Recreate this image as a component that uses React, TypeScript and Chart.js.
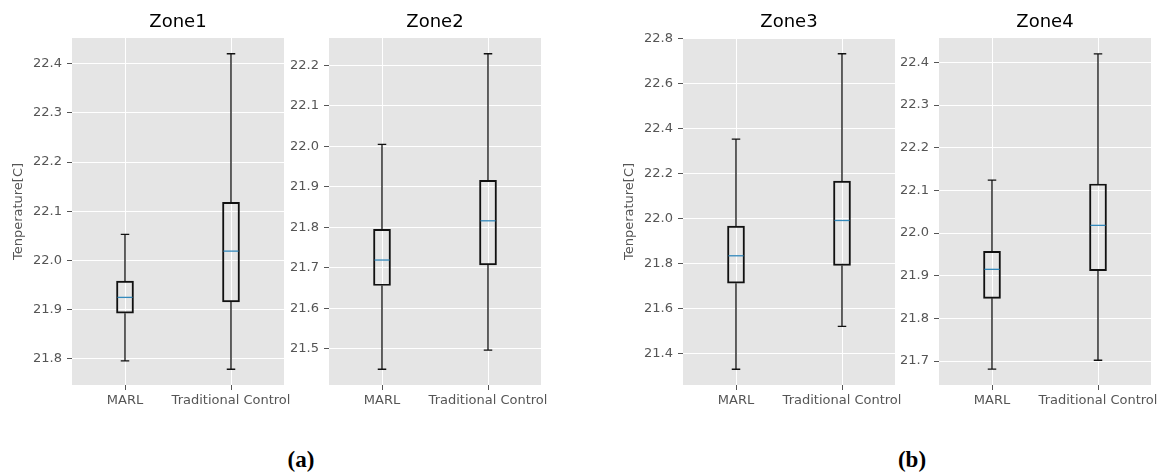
import React, { useEffect, useRef } from "react";
import { Chart, registerables } from "chart.js";

Chart.register(...registerables);

// ---------------- DATA ----------------
const categories = ["MARL", "Traditional Control"];
const zoneTitles = ["Zone1", "Zone2", "Zone3", "Zone4"];
const yAxisTitle = "Tenperature[C]";
const showYAxisTitle = [true, false, true, false];

// box statistics: [lower whisker, Q1, median, Q3, upper whisker]
const zone1Marl = [21.796, 21.893, 21.925, 21.958, 22.053];
const zone1Trad = [21.779, 21.916, 22.019, 22.118, 22.42];
const zone2Marl = [21.449, 21.656, 21.719, 21.795, 22.005];
const zone2Trad = [21.496, 21.707, 21.816, 21.916, 22.229];
const zone3Marl = [21.329, 21.712, 21.834, 21.966, 22.353];
const zone3Trad = [21.52, 21.791, 21.991, 22.166, 22.733];
const zone4Marl = [21.681, 21.847, 21.915, 21.957, 22.124];
const zone4Trad = [21.702, 21.912, 22.018, 22.115, 22.42];

// y-axis limits and tick labels
const yMins = [21.747, 21.41, 21.259, 21.644];
const yMaxs = [22.452, 22.268, 22.803, 22.457];
const zone1Ticks = [21.8, 21.9, 22.0, 22.1, 22.2, 22.3, 22.4];
const zone2Ticks = [21.5, 21.6, 21.7, 21.8, 21.9, 22.0, 22.1, 22.2];
const zone3Ticks = [21.4, 21.6, 21.8, 22.0, 22.2, 22.4, 22.6, 22.8];
const zone4Ticks = [21.7, 21.8, 21.9, 22.0, 22.1, 22.2, 22.3, 22.4];

const panelLabels = ["(a)", "(b)"];

const zoneStats = [
  [zone1Marl, zone1Trad],
  [zone2Marl, zone2Trad],
  [zone3Marl, zone3Trad],
  [zone4Marl, zone4Trad],
];
const zoneTicks = [zone1Ticks, zone2Ticks, zone3Ticks, zone4Ticks];

// ---------------- LAYOUT / STYLE ----------------
const FONT = "DejaVu Sans";
const TEXT_GRAY = "#555555";
const AXIS_W = 72;
const PLOT_W = 212;
const PAD_R = 18;
const CANVAS_H = 430;
const X_AXIS_H = 45;
const panelLefts = [0, 257, 611, 867];
const panelLabelCenters = [301, 912];

const bgPlugin = {
  id: "ggBackground",
  beforeDraw(chart: any) {
    const { ctx, chartArea } = chart;
    ctx.save();
    ctx.fillStyle = "#E5E5E5";
    ctx.fillRect(chartArea.left, chartArea.top, chartArea.right - chartArea.left, chartArea.bottom - chartArea.top);
    ctx.restore();
  },
};

const whiskerPlugin = {
  id: "boxWhisker",
  afterDatasetsDraw(chart: any, _args: any, opts: any) {
    const stats: number[][] = opts.stats || [];
    const xs = chart.scales.x;
    const ys = chart.scales.y;
    const ctx = chart.ctx;
    const meta = chart.getDatasetMeta(0);
    ctx.save();
    ctx.lineWidth = 1.3;
    stats.forEach((s, i) => {
      const bar: any = meta.data[i];
      const cx = xs.getPixelForValue(i);
      const half = (bar && bar.width ? bar.width : 16) / 2;
      const capHalf = half / 2;
      const [lo, q1, med, q3, hi] = s;
      ctx.strokeStyle = "#111111";
      ctx.beginPath();
      ctx.moveTo(cx, ys.getPixelForValue(q3));
      ctx.lineTo(cx, ys.getPixelForValue(hi));
      ctx.moveTo(cx, ys.getPixelForValue(q1));
      ctx.lineTo(cx, ys.getPixelForValue(lo));
      ctx.moveTo(cx - capHalf, ys.getPixelForValue(hi));
      ctx.lineTo(cx + capHalf, ys.getPixelForValue(hi));
      ctx.moveTo(cx - capHalf, ys.getPixelForValue(lo));
      ctx.lineTo(cx + capHalf, ys.getPixelForValue(lo));
      ctx.stroke();
      ctx.strokeStyle = "#348ABD";
      ctx.beginPath();
      ctx.moveTo(cx - half + 1, ys.getPixelForValue(med));
      ctx.lineTo(cx + half - 1, ys.getPixelForValue(med));
      ctx.stroke();
    });
    ctx.restore();
  },
};

function Panel({ index }: { index: number }) {
  const ref = useRef<HTMLCanvasElement | null>(null);
  useEffect(() => {
    if (!ref.current) return;
    const stats = zoneStats[index];
    const ticks = zoneTicks[index];
    const chart = new Chart(ref.current, {
      type: "bar",
      data: {
        labels: categories,
        datasets: [
          {
            data: stats.map((s) => [s[1], s[3]]) as any,
            backgroundColor: "rgba(0,0,0,0)",
            borderColor: "#111111",
            borderWidth: 1.3,
            borderSkipped: false,
            barThickness: 17,
          },
        ],
      },
      options: {
        responsive: false,
        animation: false,
        events: [],
        layout: { padding: { left: 0, right: PAD_R, top: 0, bottom: 0 } },
        plugins: {
          legend: { display: false },
          tooltip: { enabled: false },
          title: {
            display: true,
            fullSize: false,
            align: "center",
            text: zoneTitles[index],
            color: "#000000",
            font: { family: FONT, size: 18, weight: "normal" },
            padding: { top: 12, bottom: 4.4 },
          },
          boxWhisker: { stats },
        } as any,
        scales: {
          x: {
            offset: true,
            border: { display: false },
            grid: {
              offset: false,
              color: "#FFFFFF",
              lineWidth: 1,
              tickColor: TEXT_GRAY,
              tickLength: 5,
            },
            ticks: {
              color: TEXT_GRAY,
              font: { family: FONT, size: 13 },
              padding: 3,
              maxRotation: 0,
              autoSkip: false,
            },
            afterFit: (scale: any) => {
              scale.height = X_AXIS_H;
            },
          },
          y: {
            min: yMins[index],
            max: yMaxs[index],
            border: { display: false },
            grid: {
              color: "#FFFFFF",
              lineWidth: 1,
              tickColor: TEXT_GRAY,
              tickLength: 5,
            },
            ticks: {
              color: TEXT_GRAY,
              font: { family: FONT, size: 13 },
              padding: 5,
              autoSkip: false,
              callback: (v: any) => Number(v).toFixed(1),
            },
            afterBuildTicks: (scale: any) => {
              scale.ticks = ticks.map((v) => ({ value: v }));
            },
            title: {
              display: showYAxisTitle[index],
              text: yAxisTitle,
              color: TEXT_GRAY,
              font: { family: FONT, size: 13 },
              padding: { top: 11.2, bottom: 0 },
            },
            afterFit: (scale: any) => {
              scale.width = AXIS_W;
            },
          },
        },
      },
      plugins: [bgPlugin, whiskerPlugin],
    });
    return () => chart.destroy();
  }, [index]);
  return (
    <canvas
      ref={ref}
      width={AXIS_W + PLOT_W + PAD_R}
      height={CANVAS_H}
      style={{
        position: "absolute",
        left: panelLefts[index],
        top: 0,
        width: AXIS_W + PLOT_W + PAD_R,
        height: CANVAS_H,
        display: "block",
      }}
    />
  );
}

export default function App() {
  return (
    <div
      style={{
        position: "absolute",
        left: 0,
        top: 0,
        width: 1162,
        height: 476,
        background: "#FFFFFF",
        overflow: "hidden",
      }}
    >
      {zoneTitles.map((_, i) => (
        <Panel key={i} index={i} />
      ))}
      {panelLabels.map((t, i) => (
        <div
          key={t}
          style={{
            position: "absolute",
            left: panelLabelCenters[i] - 40,
            width: 80,
            top: 448,
            lineHeight: "24px",
            textAlign: "center",
            fontFamily: "'Liberation Serif', serif",
            fontWeight: "bold",
            fontSize: 23,
            color: "#000",
          }}
        >
          {t}
        </div>
      ))}
    </div>
  );
}
